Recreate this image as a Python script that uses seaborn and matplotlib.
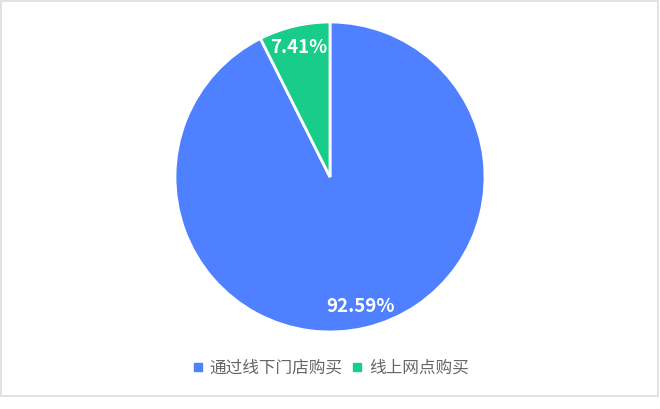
import matplotlib
matplotlib.use("Agg")
import matplotlib.pyplot as plt
import seaborn as sns
from matplotlib.patches import Rectangle
from matplotlib.lines import Line2D

categories = ["通过线下门店购买", "线上网点购买"]
values = [92.59, 7.41]
colors = ["#4E80FF", "#18CC8A"]

sns.set_theme(style="white")
plt.rcParams['font.family'] = ['Noto Sans CJK SC', 'DejaVu Sans']

W, H = 660, 409
fig = plt.figure(figsize=(W / 100, H / 100), dpi=100)
fig.patch.set_facecolor("white")

cx, cy, r = 330, 177, 155
ax = fig.add_axes([(cx - r) / W, (H - cy - r) / H, 2 * r / W, 2 * r / H])
wedges, texts, autotexts = ax.pie(
    values, colors=colors, startangle=90, counterclock=False,
    autopct=lambda p: f"{p:.2f}%", pctdistance=0.86,
    wedgeprops=dict(edgecolor="white", linewidth=2),
    textprops=dict(color="white", fontsize=13.5, fontweight="bold"),
)
ax.set_xlim(-1.0, 1.0)
ax.set_ylim(-1.0, 1.0)
ax.set_aspect("equal")
ax.axis("off")

handles = [Line2D([0], [0], marker="s", linestyle="none", markersize=6,
                  markerfacecolor=c, markeredgecolor=c) for c in colors]
fig.legend(handles, categories, loc="center", bbox_to_anchor=(0.5, 1 - 368 / H),
           ncol=2, frameon=False, fontsize=12, handletextpad=0.3,
           columnspacing=0.5, labelcolor="#666666", handlelength=0.8)

fig.add_artist(Rectangle((1 / W, 1 - 396 / H), 657 / W, 395 / H,
                         transform=fig.transFigure, fill=False,
                         edgecolor="#dddddd", linewidth=1.2))

fig.savefig("out.png", dpi=100)
